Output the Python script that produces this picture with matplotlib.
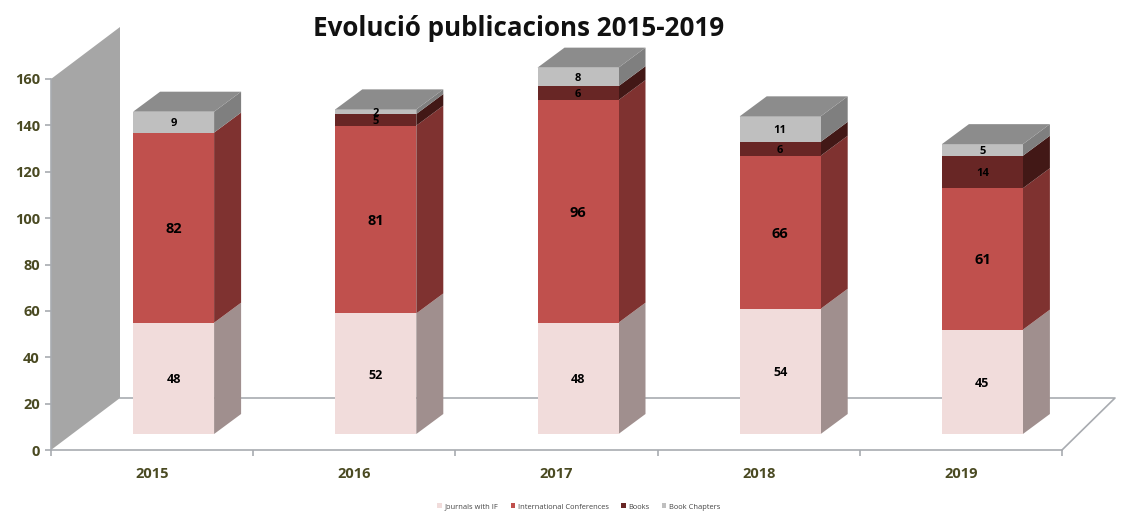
import numpy as np
import matplotlib
matplotlib.use("Agg")
import matplotlib.pyplot as plt
from matplotlib.patches import Polygon, Patch

years = ["2015", "2016", "2017", "2018", "2019"]
journals = [48, 52, 48, 54, 45]
conferences = [82, 81, 96, 66, 61]
books = [0, 5, 6, 6, 14]
chapters = [9, 2, 8, 11, 5]
names = ["Journals with IF", "International Conferences", "Books", "Book Chapters"]

front_colors = ["#f1dcdb", "#c0504d", "#682625", "#bfbfbf"]
side_colors = ["#a08f8e", "#7f3230", "#421816", "#7f7f7f"]
top_color = "#8c8c8c"
wall_color = "#a6a6a6"
axis_color = "#a8abb0"
tick_color = "#4a4a22"
label_sizes = [9, 10.5, 8, 8]

W, H = 1131, 512
# pixel box of the plot area
left, right, bottom, top = 51, 1062, 450, 79
plt.rcParams["font.family"] = ["Open Sans", "DejaVu Sans"]

fig = plt.figure(figsize=(W / 100, H / 100), dpi=100)
ax = fig.add_axes([left / W, 1 - bottom / H, (right - left) / W, (bottom - top) / H])
ax.set_xlim(0, 5)
ax.set_ylim(0, 160)
ax.patch.set_alpha(0)

xs = (right - left) / 5
ys = (bottom - top) / 160
wall_dx, wall_dy = 69 / xs, 52 / ys
end_dx = 53 / xs
bar_w = 81 / xs
bar_shift = 21.5 / xs
bar_lift = 16 / ys
dx, dy = 27 / xs, 20 / ys
label_drop = 1.5 / ys

# side wall and floor
ax.add_patch(Polygon([(0, 0), (wall_dx, wall_dy), (wall_dx, 160 + wall_dy), (0, 160)],
                     closed=True, fc=wall_color, ec="none", clip_on=False, zorder=1))
ax.plot([wall_dx, 5 + end_dx, 5], [wall_dy, wall_dy, 0], color=axis_color, lw=1.2,
        clip_on=False, zorder=1)

series = [journals, conferences, books, chapters]
for i in range(len(years)):
    x0 = i + 0.5 + bar_shift - bar_w / 2
    x1 = x0 + bar_w
    base = bar_lift
    for s in range(len(series)):
        v = series[s][i]
        if v == 0:
            continue
        ax.add_patch(Polygon([(x1, base), (x1 + dx, base + dy), (x1 + dx, base + v + dy), (x1, base + v)],
                             closed=True, fc=side_colors[s], ec="none", clip_on=False, zorder=2))
        ax.bar(x0, v, width=bar_w, bottom=base, align="edge", color=front_colors[s], zorder=3, clip_on=False)
        ax.text((x0 + x1) / 2, base + v / 2 - label_drop, str(v), ha="center", va="center", fontweight="bold",
                fontsize=label_sizes[s], color="#000000", zorder=5)
        base += v
    ax.add_patch(Polygon([(x0, base), (x1, base), (x1 + dx, base + dy), (x0 + dx, base + dy)],
                         closed=True, fc=top_color, ec="none", clip_on=False, zorder=4))

for side in ["top", "right"]:
    ax.spines[side].set_visible(False)
for side in ["left", "bottom"]:
    ax.spines[side].set_color(axis_color)
    ax.spines[side].set_linewidth(1.2)

ax.set_yticks(np.arange(0, 161, 20))
ax.set_xticks(np.arange(0, 6))
ax.set_xticklabels([])
ax.set_xticks(np.arange(len(years)) + 0.5, labels=years, minor=True)
ax.tick_params(axis="both", which="major", color=axis_color, length=4, width=1.2)
ax.tick_params(axis="x", which="major", direction="out")
ax.tick_params(axis="x", which="minor", length=0, pad=12.5)
ax.tick_params(axis="y", labelsize=10.5, labelcolor=tick_color, pad=4)
ax.tick_params(axis="x", which="minor", labelsize=10.5, labelcolor=tick_color)
for t in ax.get_yticklabels() + ax.get_xticklabels(minor=True):
    t.set_fontweight("bold")

fig.text(518.5 / W, 1 - 29 / H, "Evolució publicacions 2015-2019", ha="center", va="center",
         fontsize=18.7, fontweight="bold", color="#111111")

handles = [Patch(fc=c, ec="none") for c in front_colors]
fig.legend(handles, names, loc="center", bbox_to_anchor=(579 / W, 1 - 507 / H), ncol=4, frameon=False,
           fontsize=5.4, handlelength=0.6, handleheight=0.6, handletextpad=0.4, columnspacing=1.6,
           labelcolor="#444444")

fig.savefig("out.png", dpi=100)
